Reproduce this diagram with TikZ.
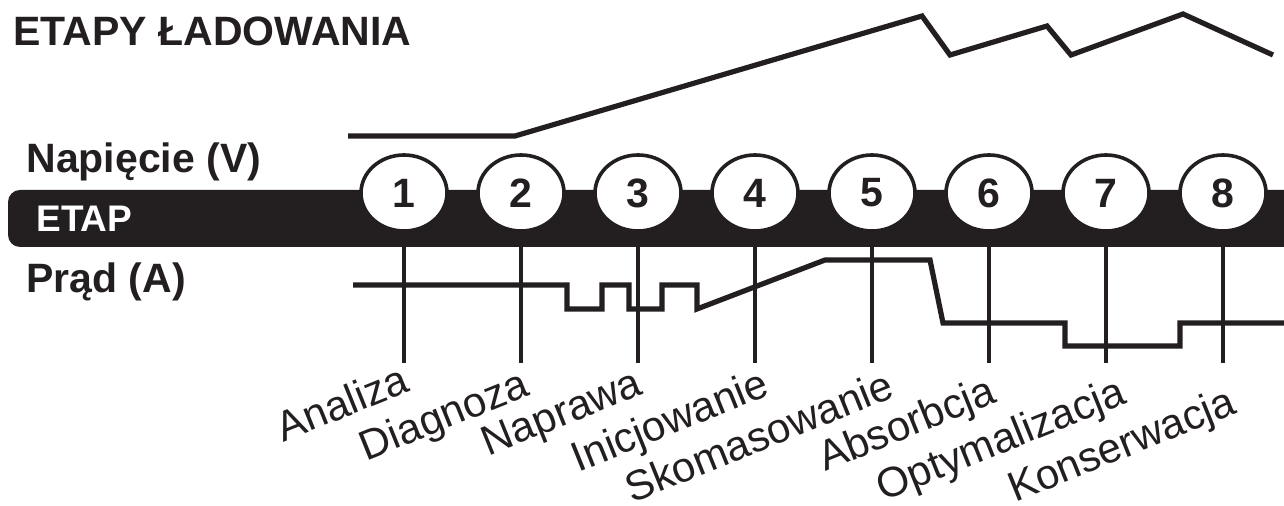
\documentclass[tikz,border=0pt]{standalone}
\usepackage{fontspec}
\setmainfont{Liberation Sans}
\usetikzlibrary{shapes.geometric}
\definecolor{ink}{RGB}{35,31,32}

\begin{document}
\begin{tikzpicture}[x=0.5pt, y=-0.5pt]
 \tikzstyle{etap}=[ellipse, draw=ink, fill=white, line width=1.8pt, minimum width=43pt, minimum height=38pt, inner sep=0pt, text=ink, font=\fontsize{20.5}{22}\selectfont\bfseries]
 \tikzstyle{naglowek}=[anchor=base west, inner sep=0pt, text=ink, font=\fontsize{20.5}{22}\selectfont\bfseries]
 \tikzstyle{opis}=[anchor=north east, rotate=22, inner sep=0pt, text=ink, font=\fontsize{21}{22}\selectfont]
 \tikzstyle{wykres}=[ink, line width=2.6pt, line join=miter]
 \tikzstyle{kreska}=[ink, line width=2pt]
 \useasboundingbox (0,0) rectangle (1284,506);
 %
 \node[naglowek] (tytul) at (13,46) {ETAPY ŁADOWANIA};
 \node[naglowek] (napiecie) at (26,173) {Napięcie (V)};
 \node[naglowek] (prad) at (26,293) {Prąd (A)};
 %
 \fill[ink, rounded corners=6pt] (1300,190) -- (8,190) -- (8,247) -- (1300,247) -- cycle;
 \node[naglowek, text=white, font=\fontsize{18.5}{20}\selectfont\bfseries] (etap) at (36,232) {ETAP};
 %
 \draw[wykres] (348,136) -- (515,136) -- (922,16) -- (950,55) -- (1047,26) -- (1071,55) -- (1183,14) -- (1273,55);
 %
 \coordinate (T1) at (404,363);
 \coordinate (T2) at (521,363);
 \coordinate (T3) at (638,363);
 \coordinate (T4) at (755,363);
 \coordinate (T5) at (872,363);
 \coordinate (T6) at (989,363);
 \coordinate (T7) at (1106,363);
 \coordinate (T8) at (1223,363);
 %
 \node[etap] (E1) at (404,193) {1};
 \node[etap] (E2) at (521,193) {2};
 \node[etap] (E3) at (638,193) {3};
 \node[etap] (E4) at (755,193) {4};
 \node[etap] (E5) at (872,193) {5};
 \node[etap] (E6) at (989,193) {6};
 \node[etap] (E7) at (1106,193) {7};
 \node[etap] (E8) at (1223,193) {8};
 %
 \draw[kreska] (E1.south) -- (T1);
 \draw[kreska] (E2.south) -- (T2);
 \draw[kreska] (E3.south) -- (T3);
 \draw[kreska] (E4.south) -- (T4);
 \draw[kreska] (E5.south) -- (T5);
 \draw[kreska] (E6.south) -- (T6);
 \draw[kreska] (E7.south) -- (T7);
 \draw[kreska] (E8.south) -- (T8);
 %
 \draw[wykres] (353,285) -- (567,285) -- (567,309) -- (602,309) -- (602,285) -- (629,285) -- (629,309) -- (662,309) -- (662,285) -- (697,285) -- (697,309) -- (825,260) -- (930,260) -- (943,323) -- (1065,323) -- (1065,346) -- (1180,346) -- (1180,323) -- (1300,323);
 %
 \node[opis] (L1) at (400,362) {Analiza};
 \node[opis] (L2) at (520,366) {Diagnoza};
 \node[opis] (L3) at (634,366) {Naprawa};
 \node[opis] (L4) at (760,366) {Inicjowanie};
 \node[opis] (L5) at (885,368) {Skomasowanie};
 \node[opis] (L6) at (987,373) {Absorbcja};
 \node[opis] (L7) at (1117,374) {Optymalizacja};
 \node[opis] (L8) at (1227,384) {Konserwacja};
\end{tikzpicture}
\end{document}
